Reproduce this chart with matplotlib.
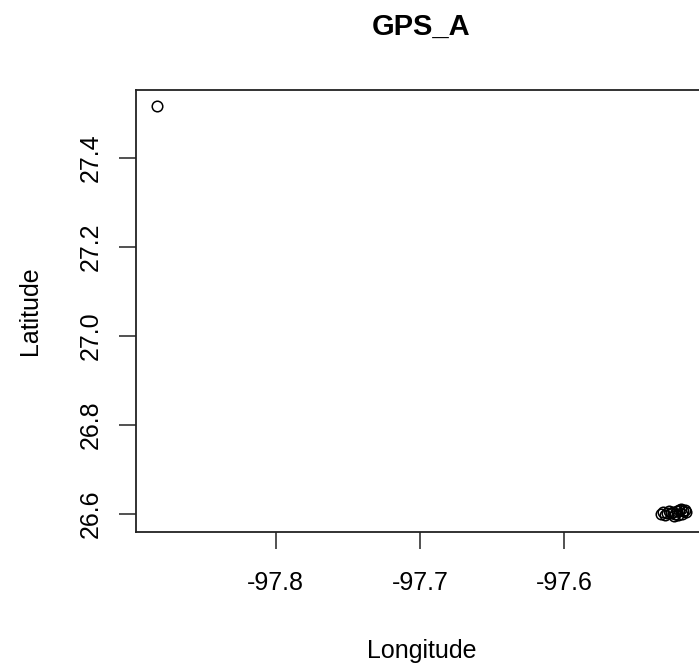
import matplotlib
matplotlib.use('Agg')
import matplotlib.pyplot as plt
import numpy as np

# GPS fixes for receiver A (decimal degrees)
longitude = [-97.882,
             -97.5332, -97.5318, -97.5304, -97.5290, -97.5277,
             -97.5263, -97.5249, -97.5235, -97.5221, -97.5242,
             -97.5207, -97.5194, -97.5180, -97.5166, -97.5159,
             -97.5187, -97.5214]
latitude = [27.516,
            26.5993, 26.6038, 26.5971, 26.6016, 26.6061,
            26.6016, 26.6038, 26.5993, 26.6061, 26.5948,
            26.6083, 26.6106, 26.6061, 26.6083, 26.6038,
            26.5993, 26.5971]

xticks = [-97.8, -97.7, -97.6]
yticks = [26.6, 26.8, 27.0, 27.2, 27.4]

plt.rcParams['font.family'] = ['Liberation Sans', 'DejaVu Sans']

W, H = 699, 666
fig = plt.figure(figsize=(W / 100, H / 100), dpi=100)
# plot region like base R, right side runs off the page
ax = fig.add_axes([136 / W, (H - 532.3) / H, (707 - 136) / W, (532.3 - 90) / H])

ax.plot(longitude, latitude, linestyle='none', marker='o', markersize=7.6,
        markerfacecolor='none', markeredgecolor='black', markeredgewidth=1.1)
ax.margins(0.04)

ax.set_xticks(xticks)
ax.set_xticklabels(['%.1f' % v for v in xticks])
ax.set_yticks(yticks)
ax.set_yticklabels(['%.1f' % v for v in yticks], rotation=90, va='center')

for s in ax.spines.values():
    s.set_linewidth(1.3)
    s.set_color('#222222')
ax.tick_params(direction='out', length=12, width=1.1, color='#222222',
               labelsize=18)
ax.tick_params(axis='x', pad=16)
ax.tick_params(axis='y', pad=12)

fig.text(421.5 / W, (H - 35) / H, 'GPS_A', ha='center', va='baseline',
         fontsize=21, fontweight='bold')
fig.text(421.5 / W, (H - 658) / H, 'Longitude', ha='center', va='baseline',
         fontsize=18)
fig.text(30 / W, (H - 311) / H, 'Latitude', ha='center', va='center',
         rotation=90, fontsize=18)

fig.savefig('out.png', dpi=100)
